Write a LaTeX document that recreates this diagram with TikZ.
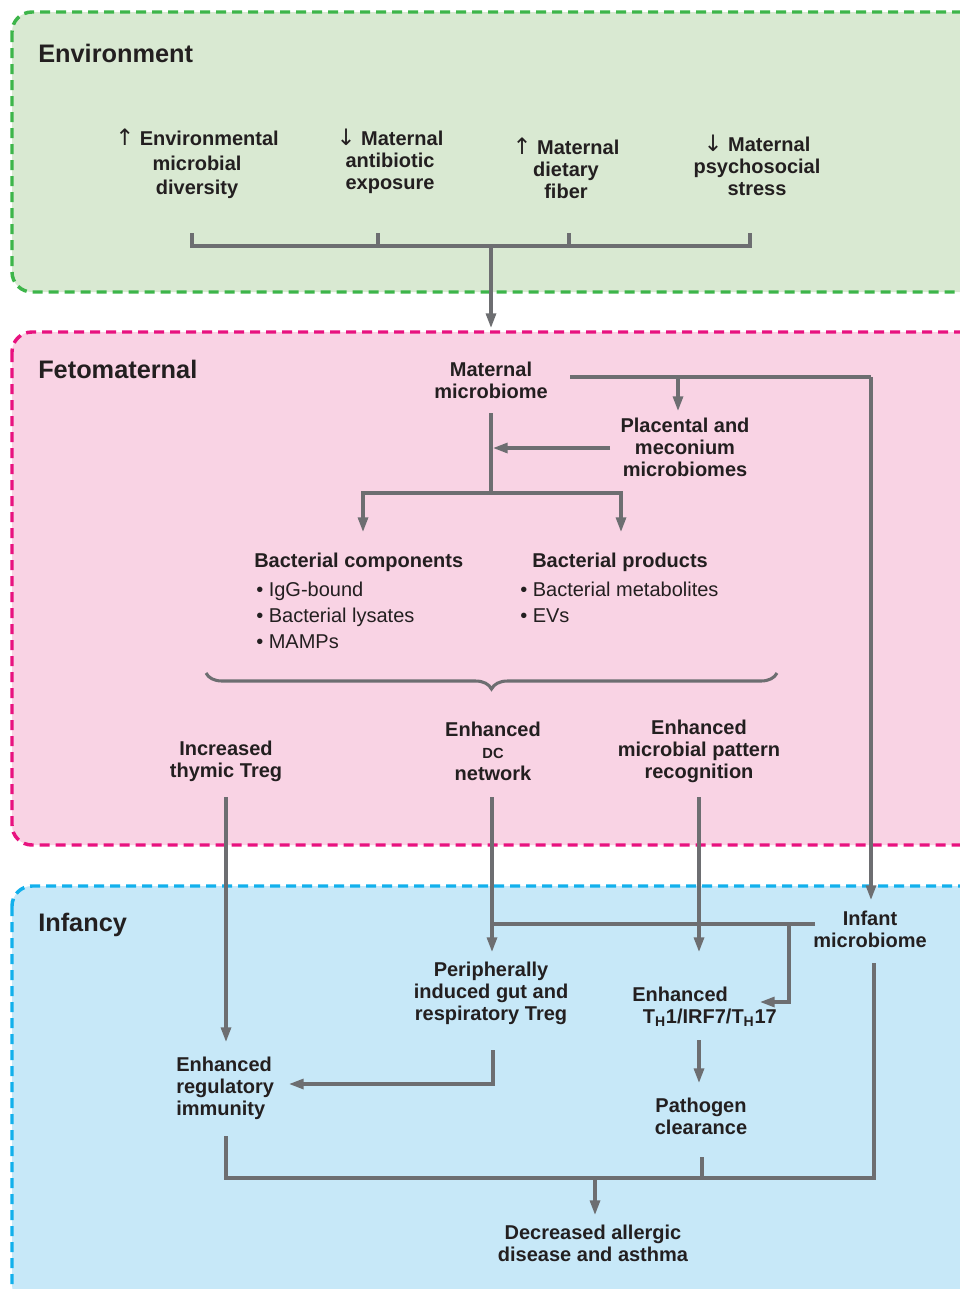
\documentclass[tikz,border=0pt]{standalone}
\usepackage{fontspec}
\setmainfont{Liberation Sans}
\newfontfamily\arrowfont{DejaVu Sans}
\usetikzlibrary{arrows.meta,decorations.pathreplacing}
\definecolor{txt}{HTML}{231F20}
\definecolor{ln}{HTML}{6D6E71}
\definecolor{gfill}{HTML}{D9E9D2}
\definecolor{gdash}{HTML}{3DB54A}
\definecolor{pfill}{HTML}{F9D3E4}
\definecolor{pdash}{HTML}{E8127F}
\definecolor{bfill}{HTML}{C7E8F8}
\definecolor{bdash}{HTML}{12B0EC}
\newcommand\uparr{{\arrowfont\mdseries\fontsize{17}{16.5}\selectfont ↑}}
\newcommand\dnarr{{\arrowfont\mdseries\fontsize{17}{16.5}\selectfont ↓}}
\begin{document}
\begin{tikzpicture}[x=0.75pt,y=-0.75pt,
 panel/.style={line width=2.6pt, dash pattern=on 7.5pt off 4.5pt, rounded corners=15pt},
 lbl/.style={font=\bfseries\fontsize{15}{16.5}\selectfont, text=txt, align=center, inner sep=0pt},
 ttl/.style={font=\bfseries\fontsize{19}{22}\selectfont, text=txt, anchor=west, inner sep=0pt},
 bul/.style={font=\fontsize{15}{19.5}\selectfont, text=txt, align=left, anchor=north west, inner sep=0pt},
 conn/.style={draw=ln, line width=2.3pt},
 arr/.style={conn, -{Triangle[length=11pt,width=7.5pt]}},
]
\clip (0,0) rectangle (960,1289);
\useasboundingbox (0,0) rectangle (960,1289);
% panels
\path[panel, fill=gfill, draw=gdash] (12,12) rectangle (990,292);
\path[panel, fill=pfill, draw=pdash] (12,332) rectangle (990,845);
\path[panel, fill=bfill, draw=bdash] (12,886) rectangle (990,1305);
% titles
\node[ttl] (tenv) at (38,53) {Environment};
\node[ttl] (tfeto) at (38,369) {Fetomaternal};
\node[ttl] (tinf) at (38,925) {Infancy};
% environment items
\node[lbl] (e1) at (197,164) {\uparr\ Environmental\\[2pt]microbial\\[2pt]diversity};
\node[lbl] (e2) at (390,161) {\dnarr\ Maternal\\antibiotic\\exposure};
\node[lbl] (e3) at (566,168) {\uparr\ Maternal\\dietary\\fiber};
\node[lbl] (e4) at (757,165) {\dnarr\ Maternal\\psychosocial\\stress};
% fetomaternal
\node[lbl] (mm) at (491,380) {Maternal\\microbiome};
\node[lbl] (pl) at (685,447) {Placental and\\meconium\\microbiomes};
\node[lbl, anchor=west] (bc) at (254,562) {Bacterial components};
\node[bul] (bcl) at (256,582) {\textbullet\ IgG-bound\\\textbullet\ Bacterial lysates\\\textbullet\ MAMPs};
\node[lbl, anchor=west] (bp) at (532,562) {Bacterial products};
\node[bul] (bpl) at (520,582) {\textbullet\ Bacterial metabolites\\\textbullet\ EVs};
\node[lbl] (it) at (226,761) {Increased\\thymic Treg};
\node[lbl] (dc) at (493,751) {Enhanced\\{\fontsize{11}{13}\selectfont DC}\\network};
\node[lbl] (mp) at (699,751) {Enhanced\\microbial pattern\\recognition};
% infancy
\node[lbl] (im) at (870,929) {Infant\\microbiome};
\node[lbl] (pt) at (491,993) {Peripherally\\induced gut and\\respiratory Treg};
\node[lbl, anchor=west, align=left] (th) at (632,1007) {Enhanced\\\hspace*{8pt}T\textsubscript{H}1/IRF7/T\textsubscript{H}17};
\node[lbl] (pc) at (701,1116) {Pathogen\\clearance};
\node[lbl, anchor=west, align=left] (ri) at (176,1088) {Enhanced\\regulatory\\immunity};
\node[lbl] (da) at (593,1243) {Decreased allergic\\disease and asthma};
% connectors: environment
\coordinate (envbus) at (491,246);
\draw[conn] (192,233) |- (750,246) -- (750,233);
\draw[conn] (378,233) -- (378,246);
\draw[conn] (569,233) -- (569,246);
\draw[arr] (envbus) -- (491,328);
% fetomaternal
\coordinate (mmr) at (570,377);
\draw[conn] (mmr) -- (871,377);
\draw[arr] (871,377) -- (871,900);
\draw[arr] (678,377) -- (678,411);
\draw[arr] (610,448) -- (493,448);
\coordinate (trunk) at (491,493);
\draw[conn] (491,413) -- (trunk);
\draw[arr] (trunk) -| (363,532);
\draw[arr] (trunk) -| (621,532);
\draw[conn, decorate, decoration={brace, amplitude=12pt, mirror}] (206,673) -- (777,673);
\draw[arr] (226,797) -- (226,1042);
\draw[arr] (492,797) -- (492,952);
\draw[arr] (699,797) -- (699,952);
% infancy
\draw[conn] (815,924) -- (492,924);
\draw[arr] (789,924) |- (760,1002);
\draw[arr] (699,1040) -- (699,1083);
\draw[arr] (493,1050) |- (289,1084);
\draw[conn] (226,1136) |- (874,1178) -- (874,963);
\draw[conn] (702,1157) -- (702,1178);
\draw[arr] (595,1178) -- (595,1215);
\end{tikzpicture}
\end{document}
